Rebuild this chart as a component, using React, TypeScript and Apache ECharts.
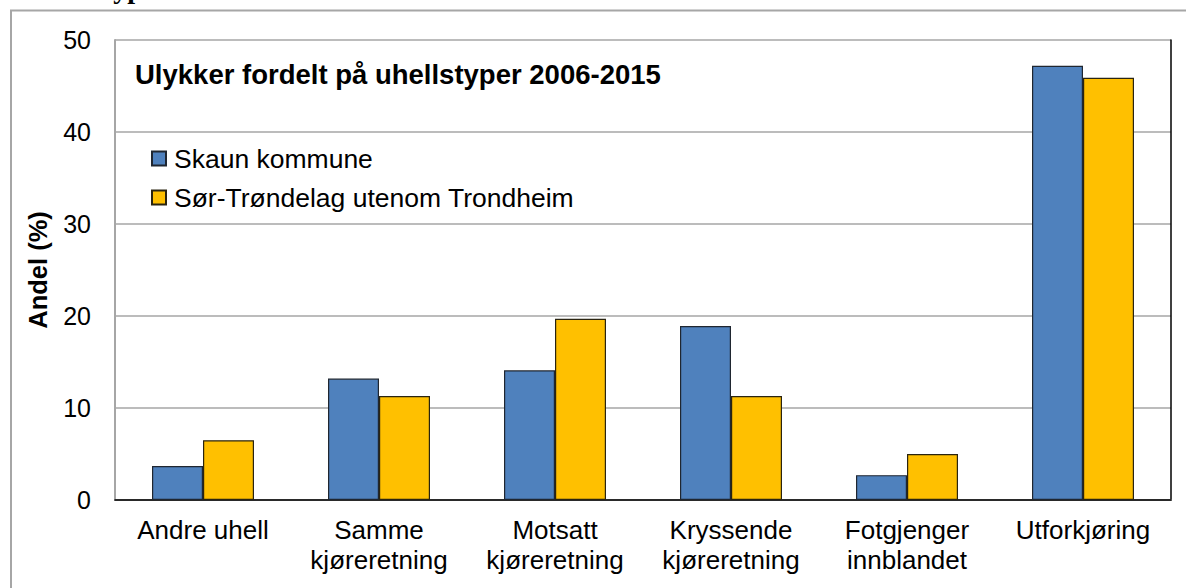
import React, { useEffect, useRef } from "react";
import * as echarts from "echarts";

const categories = [
  "Andre uhell",
  "Samme\nkjøreretning",
  "Motsatt\nkjøreretning",
  "Kryssende\nkjøreretning",
  "Fotgjenger\ninnblandet",
  "Utforkjøring",
];
const skaunValues = [3.7, 13.2, 14.1, 18.9, 2.7, 47.2];
const sorTrondelagValues = [6.5, 11.3, 19.7, 11.3, 5.0, 45.9];
const seriesNames = ["Skaun kommune", "Sør-Trøndelag utenom Trondheim"];
const titleText = "Ulykker fordelt på uhellstyper 2006-2015";
const yAxisName = "Andel (%)";

const FONT = '"Liberation Sans", Arial, sans-serif';

export default function App() {
  const ref = useRef<HTMLDivElement>(null);
  useEffect(() => {
    if (!ref.current) return;
    const chart = echarts.init(ref.current, undefined, { renderer: "svg" });
    const gray = "#a6a6a6";
    chart.setOption({
      animation: false,
      backgroundColor: "#ffffff",
      textStyle: { fontFamily: FONT },
      title: {
        text: titleText,
        left: 135,
        top: 60,
        padding: 0,
        textStyle: { fontFamily: FONT, fontSize: 27.5, fontWeight: "bold", color: "#000" },
      },
      legend: {
        orient: "vertical",
        left: 151,
        top: 145,
        padding: 0,
        itemWidth: 14,
        itemHeight: 14,
        itemGap: 12,
        icon: "rect",
        textStyle: { fontFamily: FONT, fontSize: 26.5, color: "#000", padding: [0, 0, 0, 3] },
        data: seriesNames,
      },
      graphic: [
        {
          type: "rect",
          silent: true,
          shape: { x: 11, y: 10.5, width: 1300, height: 700 },
          style: { fill: "none", stroke: gray, lineWidth: 2 },
        },
        {
          type: "text",
          silent: true,
          x: 104,
          y: 2,
          style: {
            text: "typer",
            font: 'bold 28px "Liberation Serif", serif',
            fill: "#000",
            verticalAlign: "bottom",
          },
        },
      ],
      grid: { left: 115, right: 15, top: 40, bottom: 88, containLabel: false },
      xAxis: [
        {
          type: "category",
          data: categories,
          axisLine: { show: true, lineStyle: { color: gray, width: 2 } },
          axisTick: { show: false },
          axisLabel: {
            interval: 0,
            fontFamily: FONT,
            fontSize: 26,
            lineHeight: 30,
            color: "#000",
            margin: 15,
          },
        },
        {
          type: "category",
          position: "top",
          data: categories,
          axisLine: { show: true, lineStyle: { color: "#000", width: 1.5 } },
          axisTick: { show: false },
          axisLabel: { show: false },
        },
      ],
      yAxis: [
        {
          type: "value",
          min: 0,
          max: 50,
          interval: 10,
          name: yAxisName,
          nameLocation: "middle",
          nameRotate: 90,
          nameGap: 64,
          nameTextStyle: { fontFamily: FONT, fontSize: 25.5, fontWeight: "bold", color: "#000" },
          axisLine: { show: true, lineStyle: { color: gray, width: 2 } },
          axisTick: { show: false },
          axisLabel: { fontFamily: FONT, fontSize: 25, color: "#000", margin: 24 },
          splitLine: { show: true, lineStyle: { color: gray, width: 1.5 } },
        },
        {
          type: "value",
          position: "right",
          min: 0,
          max: 50,
          interval: 10,
          axisLine: { show: true, lineStyle: { color: "#000", width: 1.5 } },
          axisTick: { show: false },
          axisLabel: { show: false },
          splitLine: { show: false },
        },
      ],
      series: [
        {
          name: seriesNames[0],
          type: "bar",
          data: skaunValues,
          barWidth: 51,
          barGap: "0%",
          itemStyle: { color: "#4f81bd", borderColor: "#1f2630", borderWidth: 1.2 },
        },
        {
          name: seriesNames[1],
          type: "bar",
          data: sorTrondelagValues,
          barWidth: 51,
          barGap: "0%",
          itemStyle: { color: "#ffc000", borderColor: "#2a2410", borderWidth: 1.2 },
        },
      ],
    });
    return () => chart.dispose();
  }, []);
  return (
    <div
      ref={ref}
      style={{ position: "fixed", left: 0, top: 0, width: 1186, height: 588 }}
    />
  );
}
